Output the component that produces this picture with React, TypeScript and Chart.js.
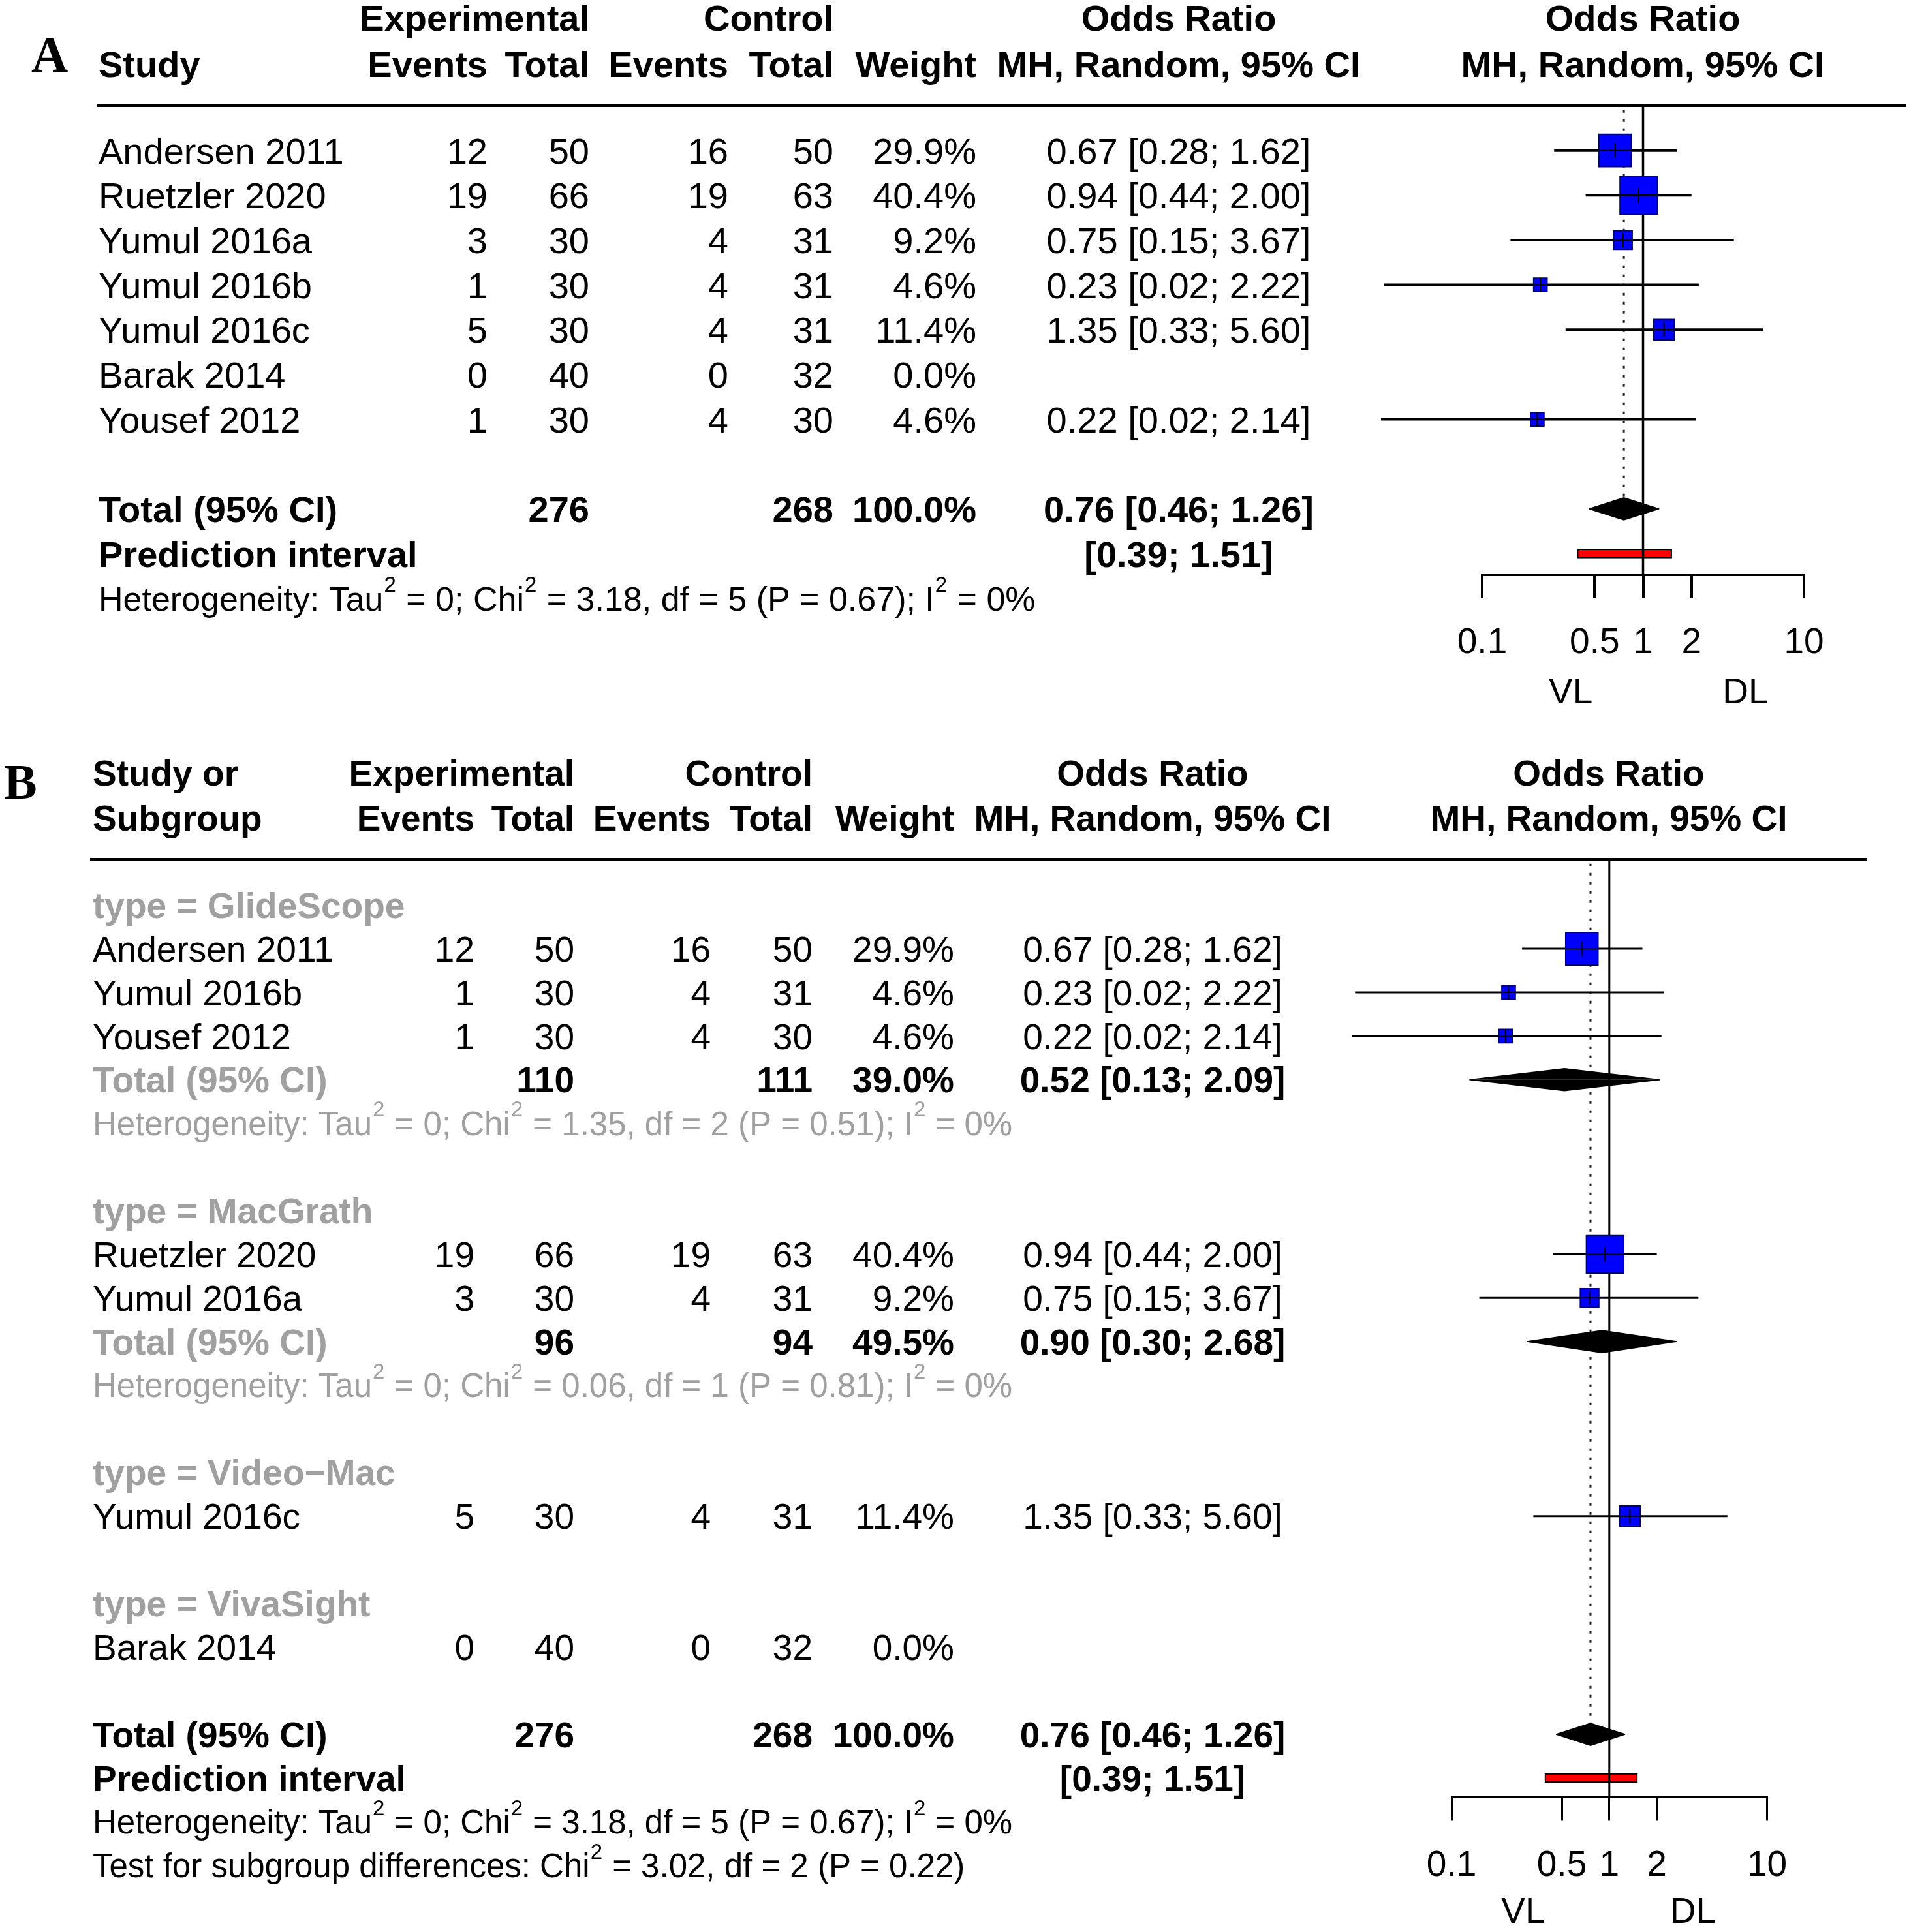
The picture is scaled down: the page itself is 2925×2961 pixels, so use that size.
import React, { useEffect, useRef } from 'react';
import { Chart, registerables } from 'chart.js';

Chart.register(...registerables);

const SANS = '"Liberation Sans", Arial, Helvetica, sans-serif';
const SERIF = '"Liberation Serif", "Times New Roman", Times, serif';
Chart.defaults.font.family = SANS;

// ---------------- study-level data ----------------
const studyNames = ['Andersen 2011', 'Ruetzler 2020', 'Yumul 2016a', 'Yumul 2016b', 'Yumul 2016c', 'Barak 2014', 'Yousef 2012'];
const expEvents = [12, 19, 3, 1, 5, 0, 1];
const expTotals = [50, 66, 30, 30, 30, 40, 30];
const ctrlEvents = [16, 19, 4, 4, 4, 0, 4];
const ctrlTotals = [50, 63, 31, 31, 31, 32, 30];
const weights = [29.9, 40.4, 9.2, 4.6, 11.4, 0.0, 4.6];
const orEst: (number | null)[] = [0.67, 0.94, 0.75, 0.23, 1.35, null, 0.22];
const orLow: (number | null)[] = [0.28, 0.44, 0.15, 0.0245, 0.33, null, 0.0235];
const orHigh: (number | null)[] = [1.62, 2.0, 3.67, 2.22, 5.6, null, 2.14];

// ---------------- pooled results ----------------
const overallTotals = [276, 268];
const overallWeight = [100.0];
const overallOR = [0.76, 0.46, 1.26];
const predictionInterval = [0.39, 1.51];
const overallHet = ['0', '3.18', '5', '0.67', '0%'];
const subgroupTest = ['3.02', '2', '0.22'];

// ---------------- subgroups (panel B) ----------------
const groupNames = ['GlideScope', 'MacGrath', 'Video\u2212Mac', 'VivaSight'];
const groupMembers = [[0, 3, 6], [1, 2], [4], [5]];
const groupExpTotals: (number | null)[] = [110, 96, null, null];
const groupCtrlTotals: (number | null)[] = [111, 94, null, null];
const groupWeights: (number | null)[] = [39.0, 49.5, null, null];
const groupOR: (number | null)[] = [0.52, 0.9, null, null];
const groupLow: (number | null)[] = [0.13, 0.3, null, null];
const groupHigh: (number | null)[] = [2.09, 2.68, null, null];
const groupHet: (string[] | null)[] = [
  ['0', '1.35', '2', '0.51', '0%'],
  ['0', '0.06', '1', '0.81', '0%'],
  null,
  null,
];

// ---------------- axis ----------------
const tickValues = [0.1, 0.5, 1, 2, 10];
const tickLabels = ['0.1', '0.5', '1', '2', '10'];
const sideLabels = ['VL', 'DL'];

const GRAY = '#a0a0a0';

// ---------------- layout (pixels / styling only) ----------------
const LAYOUT_A = {
  canvasTop: 0, canvasH: 1110,
  top: 162, bottom: 880.8, axisBoxH: 140, left: 2271, right: 2764,
  rowMin: -1, rowMax: 9.47,
  body: 56, head: 56, het: 52, tick: 55, side: 55, letterSize: 78,
  cols: { study: 151, expEv: 747, expTot: 903, ctrlEv: 1116, ctrlTot: 1277, weight: 1496, orC: 1806, plotC: 2517 },
  ruleX: [148, 2920], head1: -2.96, head2: -1.94,
  letter: 'A', letterX: 48, letterRow: -2.13,
  ciW: 4, refW: 3.5, axisW: 4, sq: 8.7, dh: 0.25,
  sidePos: [0.355, 4.33], sideRow: 12.05,
};
const LAYOUT_B = {
  canvasTop: 1110, canvasH: 1851,
  top: 207, bottom: 1644.4, axisBoxH: 140, left: 2224, right: 2707.6,
  rowMin: -1.05, rowMax: 20.44,
  body: 55, head: 55, het: 51, tick: 55, side: 55, letterSize: 76,
  cols: { study: 142, expEv: 727, expTot: 880, ctrlEv: 1089, ctrlTot: 1245, weight: 1462, orC: 1766, plotC: 2465 },
  ruleX: [138, 2860], head1: -3.03, head2: -2.0,
  letter: 'B', letterX: 6, letterRow: -2.81,
  ciW: 3, refW: 3, axisW: 3, sq: 8.7, dh: 0.255,
  sidePos: [0.285, 3.39], sideRow: 23.02,
};
type Layout = typeof LAYOUT_A;

// ---------------- text helpers ----------------
function txt(ctx: CanvasRenderingContext2D, s: string, x: number, y: number, size: number, align: CanvasTextAlign, bold = false, color = '#000') {
  ctx.font = `${bold ? 'bold ' : ''}${size}px ${SANS}`;
  ctx.fillStyle = color;
  ctx.textAlign = align;
  ctx.textBaseline = 'alphabetic';
  ctx.fillText(s, x, y + size * 0.358);
}

type Part = [string, boolean];
function hetParts(h: string[]): Part[] {
  return [
    ['Heterogeneity: Tau', false], ['2', true], [` = ${h[0]}; Chi`, false], ['2', true],
    [` = ${h[1]}, df = ${h[2]} (P = ${h[3]}); I`, false], ['2', true], [` = ${h[4]}`, false],
  ];
}
function rich(ctx: CanvasRenderingContext2D, parts: Part[], x: number, y: number, size: number, color = '#000') {
  let cx = x;
  ctx.fillStyle = color;
  ctx.textAlign = 'left';
  ctx.textBaseline = 'alphabetic';
  for (const [t, sup] of parts) {
    if (sup) {
      ctx.font = `${Math.round(size * 0.64)}px ${SANS}`;
      ctx.fillText(t, cx + 1, y - size * 0.2);
      cx += ctx.measureText(t).width + 2;
    } else {
      ctx.font = `${size}px ${SANS}`;
      ctx.fillText(t, cx, y + size * 0.358);
      cx += ctx.measureText(t).width;
    }
  }
}
const fmtCI = (e: number, l: number, h: number) => `${e.toFixed(2)} [${l.toFixed(2)}; ${h.toFixed(2)}]`;

function drawHeader(ctx: CanvasRenderingContext2D, L: Layout, yOf: (r: number) => number, twoLineStudy: boolean) {
  const c = L.cols;
  const h1 = yOf(L.head1);
  const h2 = yOf(L.head2);
  ctx.font = `bold ${L.letterSize}px ${SERIF}`;
  ctx.fillStyle = '#000';
  ctx.textAlign = 'left';
  ctx.textBaseline = 'alphabetic';
  ctx.fillText(L.letter, L.letterX, yOf(L.letterRow) + L.letterSize * 0.33);
  if (twoLineStudy) {
    txt(ctx, 'Study or', c.study, h1, L.head, 'left', true);
    txt(ctx, 'Subgroup', c.study, h2, L.head, 'left', true);
  } else {
    txt(ctx, 'Study', c.study, h2, L.head, 'left', true);
  }
  txt(ctx, 'Experimental', c.expTot, h1, L.head, 'right', true);
  txt(ctx, 'Control', c.ctrlTot, h1, L.head, 'right', true);
  txt(ctx, 'Odds Ratio', c.orC, h1, L.head, 'center', true);
  txt(ctx, 'Odds Ratio', c.plotC, h1, L.head, 'center', true);
  txt(ctx, 'Events', c.expEv, h2, L.head, 'right', true);
  txt(ctx, 'Total', c.expTot, h2, L.head, 'right', true);
  txt(ctx, 'Events', c.ctrlEv, h2, L.head, 'right', true);
  txt(ctx, 'Total', c.ctrlTot, h2, L.head, 'right', true);
  txt(ctx, 'Weight', c.weight, h2, L.head, 'right', true);
  txt(ctx, 'MH, Random, 95% CI', c.orC, h2, L.head, 'center', true);
  txt(ctx, 'MH, Random, 95% CI', c.plotC, h2, L.head, 'center', true);
  // rule under the header
  ctx.strokeStyle = '#000';
  ctx.lineWidth = 4;
  ctx.beginPath();
  const ry = yOf(L.rowMin);
  ctx.moveTo(L.ruleX[0], ry);
  ctx.lineTo(L.ruleX[1], ry);
  ctx.stroke();
}

function drawStudy(ctx: CanvasRenderingContext2D, L: Layout, i: number, y: number) {
  const c = L.cols;
  txt(ctx, studyNames[i], c.study, y, L.body, 'left');
  txt(ctx, String(expEvents[i]), c.expEv, y, L.body, 'right');
  txt(ctx, String(expTotals[i]), c.expTot, y, L.body, 'right');
  txt(ctx, String(ctrlEvents[i]), c.ctrlEv, y, L.body, 'right');
  txt(ctx, String(ctrlTotals[i]), c.ctrlTot, y, L.body, 'right');
  txt(ctx, weights[i].toFixed(1) + '%', c.weight, y, L.body, 'right');
  const e = orEst[i], lo = orLow[i], hi = orHigh[i];
  if (e !== null && lo !== null && hi !== null) txt(ctx, fmtCI(e, lo, hi), c.orC, y, L.body, 'center');
}

function drawOverall(ctx: CanvasRenderingContext2D, L: Layout, yOf: (r: number) => number, totalRow: number) {
  const c = L.cols;
  const y = yOf(totalRow);
  txt(ctx, 'Total (95% CI)', c.study, y, L.body, 'left', true);
  txt(ctx, String(overallTotals[0]), c.expTot, y, L.body, 'right', true);
  txt(ctx, String(overallTotals[1]), c.ctrlTot, y, L.body, 'right', true);
  txt(ctx, overallWeight[0].toFixed(1) + '%', c.weight, y, L.body, 'right', true);
  txt(ctx, fmtCI(overallOR[0], overallOR[1], overallOR[2]), c.orC, y, L.body, 'center', true);
  const yp = yOf(totalRow + 1);
  txt(ctx, 'Prediction interval', c.study, yp, L.body, 'left', true);
  txt(ctx, `[${predictionInterval[0].toFixed(2)}; ${predictionInterval[1].toFixed(2)}]`, c.orC, yp, L.body, 'center', true);
  rich(ctx, hetParts(overallHet), c.study, yOf(totalRow + 2), L.het);
}

function drawSideLabels(ctx: CanvasRenderingContext2D, L: Layout, chart: any) {
  const xs = chart.scales.x;
  const y = chart.scales.y.getPixelForValue(L.sideRow);
  txt(ctx, sideLabels[0], xs.getPixelForValue(L.sidePos[0]), y, L.side, 'center');
  txt(ctx, sideLabels[1], xs.getPixelForValue(L.sidePos[1]), y, L.side, 'center');
}

// ---------------- forest datasets ----------------
type SRow = { i: number; row: number };
type DRow = { est: number; lo: number; hi: number; row: number };

function forestDatasets(L: Layout, studyRows: SRow[], diamonds: DRow[], predRow: number, dotEnd: number) {
  const shown = studyRows.filter((r) => orEst[r.i] !== null);
  const ci: any[] = [];
  shown.forEach((r) => {
    ci.push({ x: orLow[r.i], y: r.row }, { x: orHigh[r.i], y: r.row }, { x: NaN, y: NaN });
  });
  const pts = shown.map((r) => ({ x: orEst[r.i], y: r.row }));
  const sides = shown.map((r) => L.sq * Math.sqrt(weights[r.i]) + 2);
  const ds: any[] = [
    {
      type: 'bar', label: 'Prediction interval', indexAxis: 'y',
      data: [{ x: [predictionInterval[0], predictionInterval[1]], y: predRow }],
      backgroundColor: '#ff0000', borderColor: '#000', borderWidth: 2, borderSkipped: false,
      barThickness: 14, order: 12, clip: false,
    },
    {
      type: 'line', label: 'No effect', data: [{ x: 1, y: L.rowMin }, { x: 1, y: L.rowMax }],
      borderColor: '#000', borderWidth: L.refW, pointRadius: 0, order: 11, clip: false,
    },
    {
      type: 'line', label: 'Pooled estimate', data: [{ x: overallOR[0], y: L.rowMin + 0.1 }, { x: overallOR[0], y: dotEnd }],
      borderColor: '#222', borderWidth: 3, borderDash: [4, 10], pointRadius: 0, order: 10, clip: false,
    },
    {
      type: 'line', label: '95% CI', data: ci, borderColor: '#000', borderWidth: L.ciW,
      pointRadius: 0, spanGaps: false, order: 9, clip: false,
    },
    {
      type: 'scatter', label: 'Study OR', data: pts, pointStyle: 'rect',
      pointRadius: sides.map((s) => s / Math.SQRT2), backgroundColor: '#0000ff',
      borderColor: '#00007a', borderWidth: 2, order: 7, clip: false,
    },
    {
      type: 'scatter', label: 'est-h', data: pts, pointStyle: 'line',
      pointRadius: sides.map((s) => s / 2), borderColor: '#000', borderWidth: Math.max(2, L.ciW - 1.5), order: 6, clip: false,
    },
    {
      type: 'scatter', label: 'est-v', data: pts, pointStyle: 'line', pointRotation: 90,
      pointRadius: sides.map((s) => Math.min(s / 2, 11)), borderColor: '#000', borderWidth: 2, order: 6, clip: false,
    },
  ];
  diamonds.forEach((d, k) => {
    for (const sgn of [-1, 1]) {
      ds.push({
        type: 'line', label: `pooled-${k}-${sgn}`,
        data: [{ x: d.lo, y: d.row }, { x: d.est, y: d.row + sgn * L.dh }, { x: d.hi, y: d.row }],
        fill: { value: d.row }, backgroundColor: '#000', borderColor: '#000', borderWidth: 1.5,
        pointRadius: 0, order: 8, clip: false,
      });
    }
  });
  return ds;
}

function baseOptions(L: Layout) {
  return {
    animation: false,
    responsive: false,
    devicePixelRatio: 1,
    events: [],
    layout: {
      padding: {
        left: L.left,
        right: 2925 - L.right,
        top: L.top,
        bottom: L.canvasH - L.bottom - L.axisBoxH,
      },
    },
    plugins: { legend: { display: false }, tooltip: { enabled: false }, title: { display: false } },
    scales: {
      x: {
        type: 'logarithmic',
        position: 'bottom',
        offset: false,
        beginAtZero: false,
        min: tickValues[0],
        max: tickValues[tickValues.length - 1],
        afterBuildTicks: (s: any) => {
          s.ticks = tickValues.map((v) => ({ value: v }));
        },
        afterFit: (s: any) => {
          s.height = L.axisBoxH;
        },
        ticks: {
          autoSkip: false, maxRotation: 0, minRotation: 0, padding: 36, color: '#000',
          font: { family: SANS, size: L.tick },
          callback: (_v: any, i: number) => tickLabels[i],
        },
        grid: {
          display: true, offset: false, drawOnChartArea: false, drawTicks: true, tickLength: 36,
          tickWidth: L.axisW, tickColor: '#000', color: '#000', lineWidth: L.axisW,
        },
        border: { display: true, color: '#000', width: L.axisW },
      },
      y: {
        type: 'linear', reverse: true, offset: false, grace: 0, beginAtZero: false,
        min: L.rowMin, max: L.rowMax, bounds: 'data', display: false,
        grid: { offset: false },
      },
    },
  };
}

// ---------------- panel A ----------------
function configA(): any {
  const L = LAYOUT_A;
  const studyRows: SRow[] = studyNames.map((_, i) => ({ i, row: i }));
  const totalRow = studyNames.length + 1;
  const diamonds: DRow[] = [{ est: overallOR[0], lo: overallOR[1], hi: overallOR[2], row: totalRow }];
  const plugin = {
    id: 'tableA',
    afterDraw(chart: any) {
      const ctx: CanvasRenderingContext2D = chart.ctx;
      const yOf = (r: number) => chart.scales.y.getPixelForValue(r);
      ctx.save();
      drawHeader(ctx, L, yOf, false);
      studyRows.forEach((r) => drawStudy(ctx, L, r.i, yOf(r.row)));
      drawOverall(ctx, L, yOf, totalRow);
      drawSideLabels(ctx, L, chart);
      ctx.restore();
    },
  };
  return {
    type: 'scatter',
    data: { datasets: forestDatasets(L, studyRows, diamonds, totalRow + 1, totalRow - L.dh) },
    options: baseOptions(L),
    plugins: [plugin],
  };
}

// ---------------- panel B ----------------
function configB(): any {
  const L = LAYOUT_B;
  type Item = { kind: string; row: number; g?: number; i?: number };
  const items: Item[] = [];
  const studyRows: SRow[] = [];
  const diamonds: DRow[] = [];
  let r = 0;
  groupNames.forEach((_, g) => {
    items.push({ kind: 'group', row: r, g });
    r++;
    groupMembers[g].forEach((i) => {
      items.push({ kind: 'study', row: r, i });
      studyRows.push({ i, row: r });
      r++;
    });
    const e = groupOR[g], lo = groupLow[g], hi = groupHigh[g];
    if (e !== null && lo !== null && hi !== null) {
      items.push({ kind: 'subtotal', row: r, g });
      diamonds.push({ est: e, lo, hi, row: r });
      r++;
      items.push({ kind: 'subhet', row: r, g });
      r++;
    }
    r++;
  });
  const totalRow = r;
  diamonds.push({ est: overallOR[0], lo: overallOR[1], hi: overallOR[2], row: totalRow });

  const plugin = {
    id: 'tableB',
    afterDraw(chart: any) {
      const ctx: CanvasRenderingContext2D = chart.ctx;
      const yOf = (v: number) => chart.scales.y.getPixelForValue(v);
      const c = L.cols;
      ctx.save();
      drawHeader(ctx, L, yOf, true);
      items.forEach((it) => {
        const y = yOf(it.row);
        if (it.kind === 'group') {
          txt(ctx, `type = ${groupNames[it.g!]}`, c.study, y, L.body, 'left', true, GRAY);
        } else if (it.kind === 'study') {
          drawStudy(ctx, L, it.i!, y);
        } else if (it.kind === 'subtotal') {
          const g = it.g!;
          txt(ctx, 'Total (95% CI)', c.study, y, L.body, 'left', true, GRAY);
          txt(ctx, String(groupExpTotals[g]), c.expTot, y, L.body, 'right', true);
          txt(ctx, String(groupCtrlTotals[g]), c.ctrlTot, y, L.body, 'right', true);
          txt(ctx, (groupWeights[g] as number).toFixed(1) + '%', c.weight, y, L.body, 'right', true);
          txt(ctx, fmtCI(groupOR[g] as number, groupLow[g] as number, groupHigh[g] as number), c.orC, y, L.body, 'center', true);
        } else if (it.kind === 'subhet') {
          rich(ctx, hetParts(groupHet[it.g!] as string[]), c.study, y, L.het, GRAY);
        }
      });
      drawOverall(ctx, L, yOf, totalRow);
      rich(
        ctx,
        [
          ['Test for subgroup differences: Chi', false], ['2', true],
          [` = ${subgroupTest[0]}, df = ${subgroupTest[1]} (P = ${subgroupTest[2]})`, false],
        ],
        c.study, yOf(totalRow + 3), L.het,
      );
      drawSideLabels(ctx, L, chart);
      ctx.restore();
    },
  };
  return {
    type: 'scatter',
    data: { datasets: forestDatasets(L, studyRows, diamonds, totalRow + 1, totalRow - L.dh) },
    options: baseOptions(L),
    plugins: [plugin],
  };
}

export default function App() {
  const refA = useRef<HTMLCanvasElement>(null);
  const refB = useRef<HTMLCanvasElement>(null);
  useEffect(() => {
    const a = new Chart(refA.current as HTMLCanvasElement, configA());
    const b = new Chart(refB.current as HTMLCanvasElement, configB());
    return () => {
      a.destroy();
      b.destroy();
    };
  }, []);
  return (
    <div style={{ position: 'absolute', left: 0, top: 0, width: 2925, height: 2961, background: '#fff', overflow: 'hidden' }}>
      <canvas
        ref={refA}
        width={2925}
        height={LAYOUT_A.canvasH}
        style={{ position: 'absolute', left: 0, top: LAYOUT_A.canvasTop, width: 2925, height: LAYOUT_A.canvasH }}
      />
      <canvas
        ref={refB}
        width={2925}
        height={LAYOUT_B.canvasH}
        style={{ position: 'absolute', left: 0, top: LAYOUT_B.canvasTop, width: 2925, height: LAYOUT_B.canvasH }}
      />
    </div>
  );
}
